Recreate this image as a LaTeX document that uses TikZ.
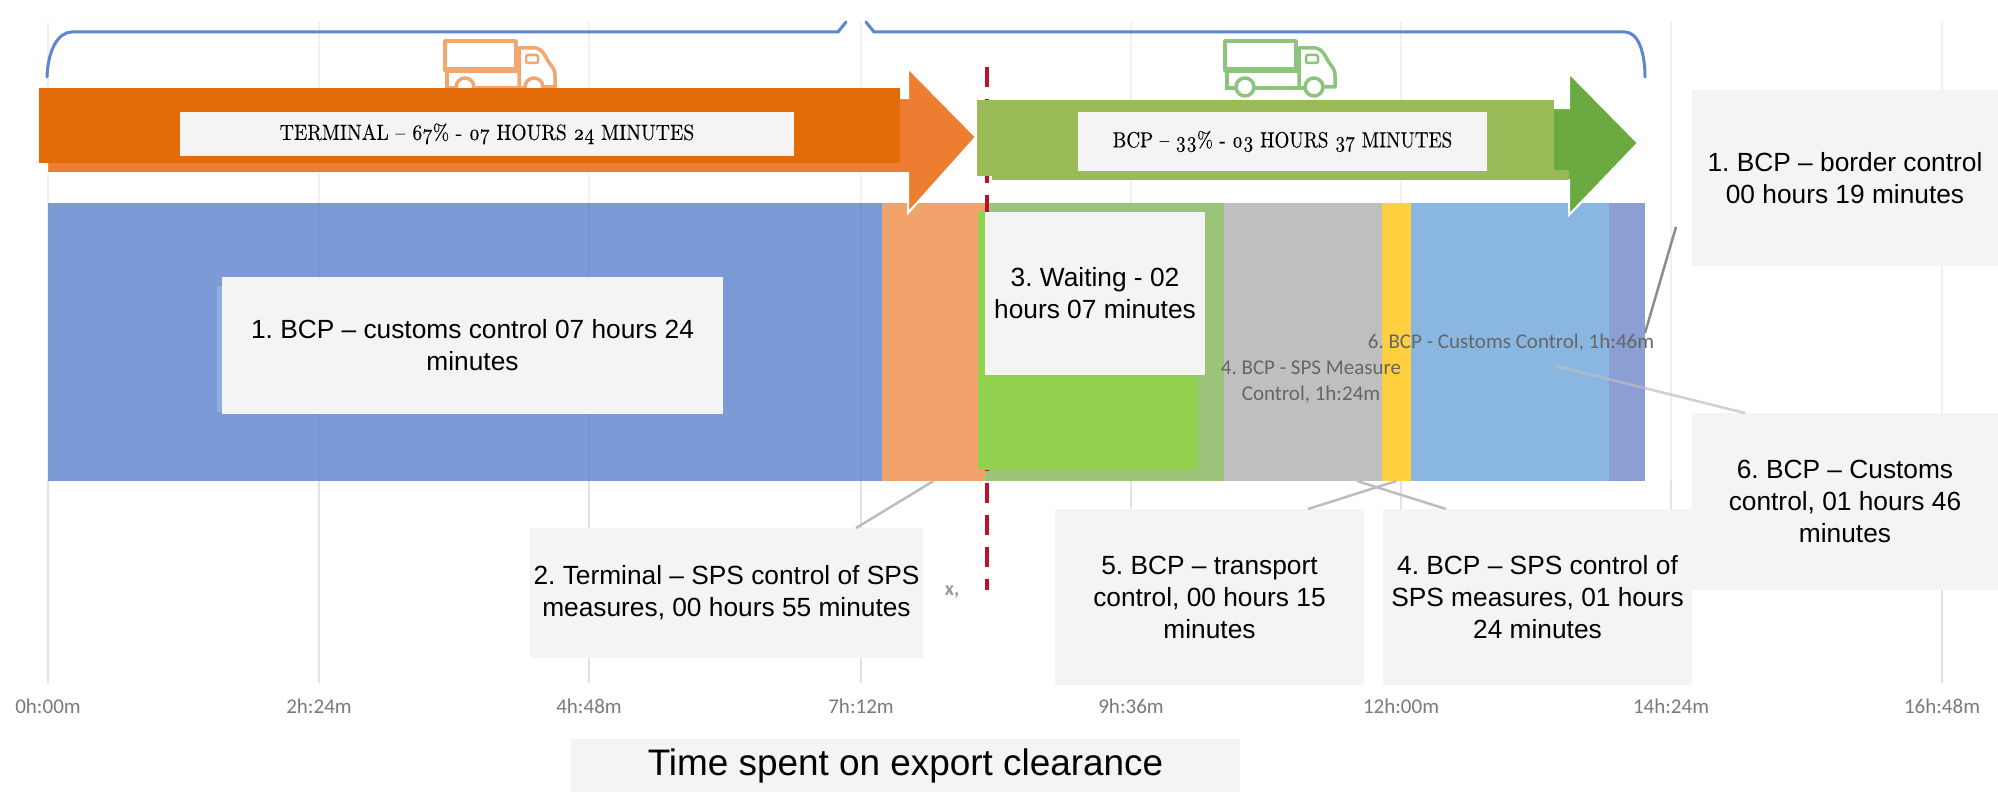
\documentclass[tikz,border=0pt]{standalone}
\usepackage{fontspec}
\usepackage{graphicx}
\setmainfont{Liberation Sans}
\newfontfamily\chartfont{Carlito}
\newfontfamily\capfont[Numbers=OldStyle,OpticalSize=10,FakeBold=0.15]{Latin Modern Roman}
\definecolor{boxgray}{HTML}{F4F4F4}
\definecolor{brace}{HTML}{5B86D0}
\definecolor{gridc}{HTML}{E2E2E2}
\definecolor{leader}{HTML}{BDBDBD}
\definecolor{segblue}{HTML}{7C9BD6}
\definecolor{segorange}{HTML}{F2A36C}
\definecolor{segpale}{HTML}{9BC37A}
\definecolor{seglime}{HTML}{92D050}
\definecolor{seggray}{HTML}{BFBFBF}
\definecolor{segyellow}{HTML}{FFCF3F}
\definecolor{segsky}{HTML}{8AB7E2}
\definecolor{segperi}{HTML}{8C9FD3}
\definecolor{darkor}{HTML}{E36C09}
\definecolor{lightor}{HTML}{ED7D31}
\definecolor{olive}{HTML}{9BBB59}
\definecolor{darkgr}{HTML}{6AAA41}
\definecolor{redline}{HTML}{C00F2A}
\definecolor{truckor}{HTML}{F4A66F}
\definecolor{truckgr}{HTML}{8CC47E}
\tikzset{
  x=1pt,y=-1pt,
  seg/.style={inner sep=0pt,outer sep=0pt,minimum height=278pt,anchor=north west},
  infobox/.style={fill=boxgray,inner sep=0pt,outer sep=0pt,align=center,text=black,
    font=\frenchspacing\fontsize{26.3}{32}\selectfont},
  capbox/.style={fill=boxgray,inner sep=0pt,outer sep=0pt,align=center,text=black,
    font=\capfont\frenchspacing\fontsize{22}{26}\selectfont},
  tick/.style={text=black!52,font=\chartfont\fontsize{21}{24}\selectfont,inner sep=0pt},
  chartlabel/.style={text=black!60,font=\chartfont\frenchspacing\fontsize{21}{26}\selectfont,align=center,inner sep=0pt},
  leaderline/.style={draw=leader,line width=2.5pt},
  gridline/.style={draw=gridc,line width=2pt},
  truckshape/.pic={
    \draw[line width=3.5pt,line join=round,pic actions] (0,0) rectangle (71,30);
    \draw[line width=5pt,pic actions] (0,29) -- (71,29);
    \draw[line width=3.5pt,pic actions] (2,30) -- (2,47) -- (10,47);
    \draw[line width=3.5pt,pic actions] (30,47) -- (79,47);
    \draw[line width=3.5pt,pic actions] (71,30) -- (76,30);
    \draw[line width=3.5pt,line join=round,pic actions] (74,47) -- (74,7) -- (91,7) .. controls (97,8) and (100,14) .. (103,20) -- (108,27) .. controls (110,30) and (110,32) .. (110,35) -- (110,46) -- (99,46);
    \draw[line width=2.5pt,rounded corners=2pt,pic actions] (81,14) rectangle (93,22);
    \draw[line width=3.5pt,pic actions] (20,46) circle (9);
    \draw[line width=3.5pt,pic actions] (89,46) circle (9);
  }
}
\begin{document}
\begin{tikzpicture}
\useasboundingbox (0,0) rectangle (1998,792);
\fill[white] (0,0) rectangle (1998,792);

% axis grid and tick labels
\foreach \n/\gx/\lab in {0/48/0h:00m,1/319/2h:24m,2/589/4h:48m,3/861/7h:12m,4/1131/9h:36m,5/1401/12h:00m,6/1671/14h:24m,7/1942/16h:48m}{
  \node[tick] (tick\n) at (\gx,706) {\lab};
  \coordinate (gtop\n) at (\gx,22);
  \draw[gridline,draw=gridc!55] (gtop\n) -- (\gx,481);
  \draw[gridline] (\gx,481) -- ([yshift=15pt]tick\n.north);
}

% brace
\coordinate (brL) at (47,77);
\coordinate (brM1) at (846,22);
\coordinate (brM2) at (866,22);
\coordinate (brR) at (1645,77);
\draw[brace,line width=3pt,line cap=round] (brL) .. controls (48,50) and (58,32) .. (72,32) -- (838,32) -- (brM1);
\draw[brace,line width=3pt,line cap=round] (brM2) -- (874,32) -- (1625,32) .. controls (1638,32) and (1645,52) .. (brR);

% trucks
\pic[draw=truckor] at (445,41) {truckshape};
\pic[draw=truckgr] at (1225,41) {truckshape};

% stacked bar
\node[seg,fill=segblue,minimum width=834pt] (segA) at (48,203) {};
\node[seg,fill=segorange,minimum width=103pt] (segB) at (882,203) {};
\node[seg,fill=segpale,minimum width=239pt] (segC) at (985,203) {};
\node[seg,fill=seggray,minimum width=158pt] (segD) at (1224,203) {};
\node[seg,fill=segyellow,minimum width=29pt] (segE) at (1382,203) {};
\node[seg,fill=segsky,minimum width=198pt] (segF) at (1411,203) {};
\node[seg,fill=segperi,minimum width=36pt] (segG) at (1609,203) {};
\fill[segblue!55!segsky!90!white] (217,286) rectangle (222,412);

% dashed divider
\coordinate (redtop) at (987,67);
\coordinate (redbot) at (987,590);
\draw[redline,line width=4.5pt,dash pattern=on 20pt off 12pt] (redtop) -- (redbot);

\node[seg,fill=seglime,minimum width=220pt,minimum height=258pt] (segL) at (978,212) {};

% grid faintly through the bar
\foreach \gx in {319,589,861}{\draw[black,opacity=.04,line width=2pt] (\gx,203) -- (\gx,481);}

% chart data labels
\node[chartlabel] (dl6) at (1511,343) {6. BCP - Customs Control, 1h:46m};
\node[chartlabel] (dl4) at (1311,382) {4. BCP - SPS Measure\\Control, 1h:24m};
\node[text=black!40,font=\chartfont\bfseries\fontsize{20}{22}\selectfont,inner sep=0pt] (stray) at (952,592) {x,};

% terminal arrow
\fill[lightor,draw=white,line width=2pt] (47,98) -- (908,98) -- (908,68) -- (976,137) -- (908,213) -- (908,173) -- (47,173) -- cycle;
\fill[darkor] (39,88) rectangle (900,163);
% BCP arrow
\fill[darkgr,draw=white,line width=2pt] (992,108) -- (1569,108) -- (1569,73) -- (1638,143) -- (1569,215) -- (1569,180) -- (992,180) -- cycle;
\fill[olive!92!darkgr] (992,170) rectangle (1569,180);
\fill[olive] (977,100) rectangle (1554,176);

% text boxes
\node[infobox,minimum width=393pt,minimum height=130pt] (box2) at (726.5,593) {2. Terminal – SPS control of SPS\\measures, 00 hours 55 minutes};
\node[infobox,minimum width=309pt,minimum height=176pt] (box5) at (1209.5,597) {5. BCP – transport\\control, 00 hours 15\\minutes};
\node[infobox,minimum width=309pt,minimum height=176pt] (box4) at (1537.5,597) {4. BCP – SPS control of\\SPS measures, 01 hours\\24 minutes};
\node[infobox,minimum width=306pt,minimum height=177pt] (box6) at (1845,501.5) {6. BCP – Customs\\control, 01 hours 46\\minutes};
\node[infobox,minimum width=306pt,minimum height=176pt] (box1) at (1845,178) {1. BCP – border control\\00 hours 19 minutes};
\node[infobox,minimum width=501pt,minimum height=137pt] (boxC) at (472.5,345.5) {1. BCP – customs control 07 hours 24\\minutes};
\node[infobox,minimum width=220pt,minimum height=163pt] (box3) at (1095,293.5) {3. Waiting - 02\\hours 07 minutes};
\node[infobox,minimum width=669pt,minimum height=53pt,font=\fontsize{36.9}{40}\selectfont] (title) at (905.5,765.5) {Time spent on export clearance};
\node[capbox,minimum width=614pt,minimum height=44pt] (capT) at (487,134) {\raisebox{-3pt}{\scalebox{.895}[1]{TERMINAL – 67\% - 07 HOURS 24 MINUTES}}};
\node[capbox,minimum width=409pt,minimum height=59pt] (capB) at (1282.5,141.5) {\raisebox{-3pt}{\scalebox{.87}[1]{BCP – 33\% - 03 HOURS 37 MINUTES}}};

% leader lines
\coordinate (l6a) at (1556,366);
\coordinate (l1a) at (1676,227);
\coordinate (l1b) at (1645,333);
\draw[leaderline] (segB.south) -- ([xshift=129.5pt]box2.north);
\draw[leaderline] (segE.south) -- ([xshift=98.5pt]box5.north);
\draw[leaderline] ([xshift=54pt]segD.south) -- ([xshift=-91.5pt]box4.north);
\draw[leaderline,opacity=.7] (l6a) -- ([xshift=-100pt]box6.north);
\draw[leaderline,draw=black!45] (l1a) -- (l1b);
\end{tikzpicture}
\end{document}
